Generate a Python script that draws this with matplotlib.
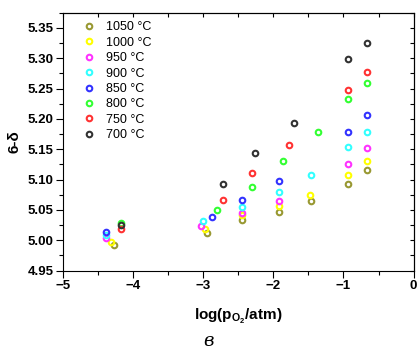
import matplotlib.pyplot as plt
from matplotlib.ticker import MultipleLocator

plt.rcParams['font.family'] = ['Liberation Sans', 'DejaVu Sans']

temps = ["1050 °C", "1000 °C", "950 °C", "900 °C", "850 °C", "800 °C", "750 °C", "700 °C"]
colors = ["#999933", "#ffff00", "#ff33ff", "#33ffff", "#3333ff", "#33ff33", "#ff3333", "#333333"]

x_1050 = [-4.28, -2.95, -2.45, -1.92, -1.47, -0.94, -0.66]
y_1050 = [4.992, 5.012, 5.033, 5.046, 5.064, 5.092, 5.115]
x_1000 = [-4.32, -2.97, -2.45, -1.92, -1.48, -0.94, -0.66]
y_1000 = [4.997, 5.018, 5.041, 5.056, 5.074, 5.108, 5.131]
x_950 = [-4.39, -3.03, -2.45, -1.92, -0.94, -0.66]
y_950 = [5.003, 5.023, 5.045, 5.065, 5.126, 5.152]
x_900 = [-4.39, -3.00, -2.45, -1.92, -1.46, -0.94, -0.66]
y_900 = [5.008, 5.032, 5.055, 5.079, 5.108, 5.154, 5.179]
x_850 = [-4.39, -2.88, -2.45, -1.92, -0.94, -0.66]
y_850 = [5.013, 5.038, 5.067, 5.098, 5.179, 5.207]
x_800 = [-4.18, -2.81, -2.30, -1.86, -1.36, -0.94, -0.66]
y_800 = [5.028, 5.050, 5.087, 5.131, 5.178, 5.233, 5.259]
x_750 = [-4.18, -2.72, -2.31, -1.78, -0.94, -0.66]
y_750 = [5.018, 5.067, 5.110, 5.157, 5.248, 5.278]
x_700 = [-4.18, -2.72, -2.26, -1.70, -0.94, -0.66]
y_700 = [5.025, 5.093, 5.144, 5.193, 5.298, 5.325]

xs = [x_1050, x_1000, x_950, x_900, x_850, x_800, x_750, x_700]
ys = [y_1050, y_1000, y_950, y_900, y_850, y_800, y_750, y_700]

fig = plt.figure(figsize=(4.19, 3.51), dpi=100)
ax = fig.add_axes([0.151, 0.229, 0.836, 0.735])

for x, y, c, lab in zip(xs, ys, colors, temps):
    ax.plot(x, y, 'o', mfc='none', mec=c, mew=1.5, ms=4.0, label=lab)

ax.set_xlim(-5, 0)
ax.set_ylim(4.95, 5.375)
ax.xaxis.set_major_locator(MultipleLocator(1))
ax.xaxis.set_minor_locator(MultipleLocator(0.5))
ax.yaxis.set_major_locator(MultipleLocator(0.05))
ax.yaxis.set_minor_locator(MultipleLocator(0.025))
ax.tick_params(which='major', direction='out', length=5, width=0.8, labelsize=9.5, pad=2)
ax.tick_params(which='minor', direction='out', length=3, width=0.8)
for lbl in ax.get_xticklabels() + ax.get_yticklabels():
    lbl.set_fontweight('bold')

# inward ticks on top and right
top = ax.secondary_xaxis('top')
top.set_xticks([-5, -4.5, -4, -3.5, -3, -2.5, -2, -1.5, -1, -0.5, 0])
top.tick_params(direction='in', length=3, labeltop=False)
right = ax.secondary_yaxis('right')
right.yaxis.set_major_locator(MultipleLocator(0.025))
right.tick_params(direction='in', length=3, labelright=False)

ax.set_xlabel("log(p$_{\\mathregular{O_2}}$/atm)", fontsize=11, fontweight='bold', labelpad=10)
ax.set_ylabel("6-δ", fontsize=11, fontweight='bold', labelpad=4)

ax.legend(loc='upper left', bbox_to_anchor=(0.03, 1.0), frameon=False, fontsize=9,
          handlelength=1.0, handletextpad=0.9, labelspacing=0.27, borderaxespad=0.3)

fig.text(0.497, 0.004, "в", fontsize=13, style='italic', family='DejaVu Serif',
         ha='center', va='bottom')

fig.savefig("out.png", dpi=100)
